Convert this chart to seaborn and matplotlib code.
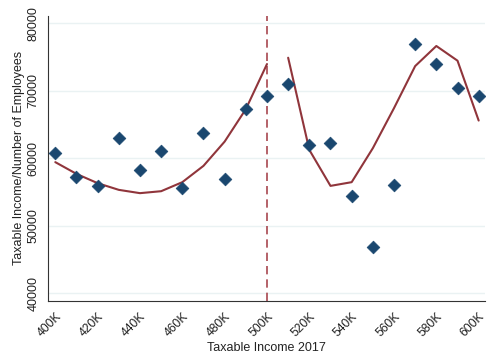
import matplotlib
matplotlib.use("Agg")
import matplotlib.pyplot as plt
import seaborn as sns
import pandas as pd

# Binned means of taxable income per employee, by 2017 taxable income
income = [400000, 410000, 420000, 430000, 440000, 450000, 460000, 470000,
          480000, 490000, 500000, 510000, 520000, 530000, 540000, 550000,
          560000, 570000, 580000, 590000, 600000]
income_per_employee = [60790, 57180, 55850, 63060, 58220, 61130, 55590, 63710,
                       56970, 67270, 69210, 71030, 61930, 62230, 54410, 46800,
                       55990, 76970, 74000, 70400, 69160]

# Polynomial fits on each side of the 500K threshold
fit_left_x = [400000, 410000, 420000, 430000, 440000, 450000, 460000,
              470000, 480000, 490000, 500000]
fit_left_y = [59410, 57670, 56290, 55300, 54810, 55100, 56440,
              58860, 62460, 67270, 73960]
fit_right_x = [510000, 520000, 530000, 540000, 550000, 560000, 570000,
               580000, 590000, 600000]
fit_right_y = [74900, 61230, 55890, 56440, 61480, 67420, 73660,
               76640, 74460, 65580]

threshold = 500000
x_ticks = [400000, 420000, 440000, 460000, 480000, 500000, 520000,
           540000, 560000, 580000, 600000]
x_tick_labels = ["400K", "420K", "440K", "460K", "480K", "500K", "520K",
                 "540K", "560K", "580K", "600K"]
y_ticks = [40000, 50000, 60000, 70000, 80000]

sns.set_style("white")
plt.rcParams["font.family"] = ["Liberation Sans", "DejaVu Sans"]

navy = "#1a476f"
cranberry = "#90353b"
grid_color = "#eaf2f3"

fig = plt.figure(figsize=(4.88, 3.54), dpi=100)
ax = fig.add_axes([0.0977, 0.1506, 0.8962, 0.805])

points = pd.DataFrame({"income": income, "value": income_per_employee})
left = pd.DataFrame({"income": fit_left_x, "value": fit_left_y})
right = pd.DataFrame({"income": fit_right_x, "value": fit_right_y})

for y in y_ticks:
    ax.axhline(y, color=grid_color, lw=1.0, zorder=0)

sns.lineplot(data=left, x="income", y="value", color=cranberry, lw=1.5,
             ax=ax, zorder=2)
sns.lineplot(data=right, x="income", y="value", color=cranberry, lw=1.5,
             ax=ax, zorder=2)
sns.scatterplot(data=points, x="income", y="value", marker="D", s=42,
                color=navy, edgecolor=navy, linewidth=0.5, ax=ax, zorder=3)

ax.axvline(threshold, color="#a8474f", lw=1.2, ls=(0, (5, 3)), zorder=1)

ax.set_xlim(396400, 603000)
ax.set_ylim(38860, 81130)
ax.set_xticks(x_ticks)
ax.set_xticklabels(x_tick_labels, rotation=45, ha="right",
                   rotation_mode="anchor", fontsize=8.8)
ax.set_yticks(y_ticks)
ax.set_yticklabels([str(v) for v in y_ticks], rotation=90, va="center",
                   fontsize=9)
ax.tick_params(axis="both", direction="out", length=4, width=0.8,
               color="#333333", pad=2, labelcolor="#222222")
ax.tick_params(axis="x", pad=3)

for side in ["top", "right"]:
    ax.spines[side].set_visible(False)
for side in ["left", "bottom"]:
    ax.spines[side].set_color("#333333")
    ax.spines[side].set_linewidth(0.8)

ax.set_xlabel("Taxable Income 2017", fontsize=9, color="#222222", labelpad=2)
ax.set_ylabel("Taxable Income/Number of Employees", fontsize=9,
              color="#222222", labelpad=2)

fig.savefig("out.png", dpi=100, facecolor="white")
